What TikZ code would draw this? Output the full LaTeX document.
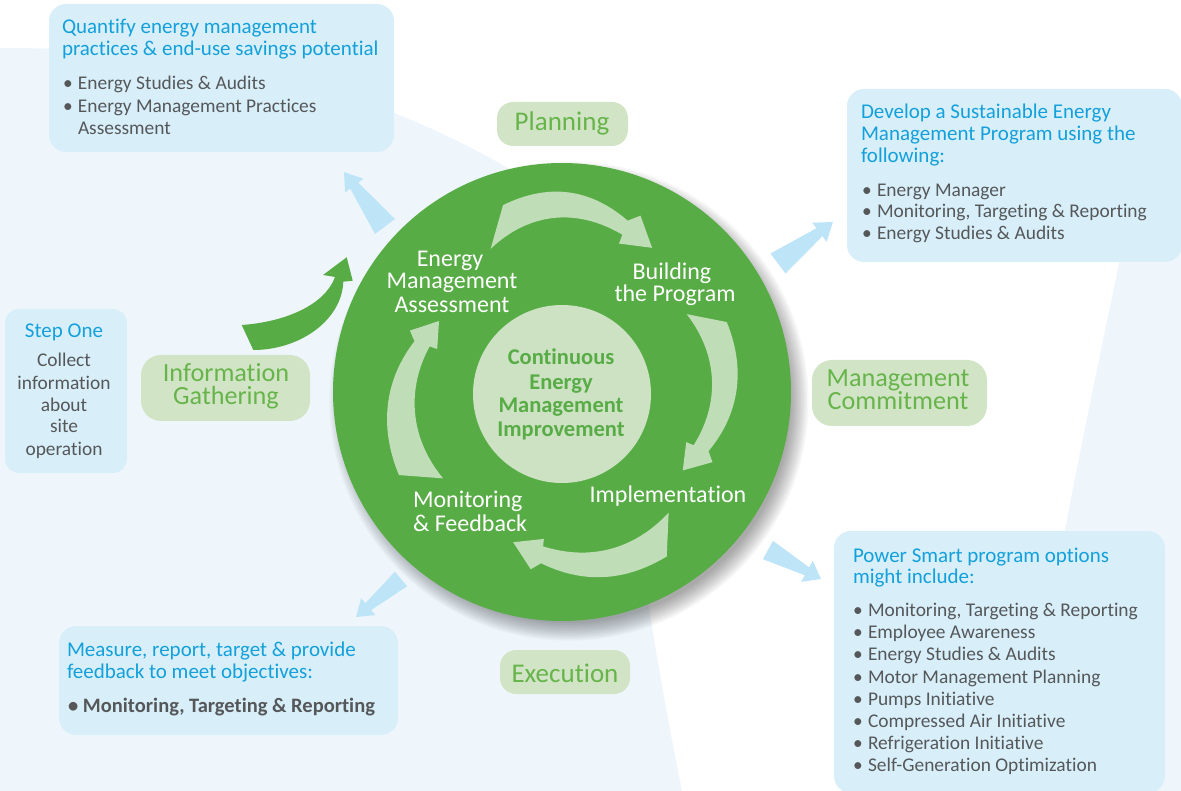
\documentclass[tikz,border=0pt]{standalone}
\usepackage{fontspec}
\setmainfont{Carlito}[Ligatures={NoCommon}]
\definecolor{bgpale}{HTML}{EEF6FC}
\definecolor{boxblue}{HTML}{D8EFFA}
\definecolor{titleblue}{HTML}{13A0DB}
\definecolor{bodygrey}{HTML}{555759}
\definecolor{wheelgreen}{HTML}{58AC46}
\definecolor{cyclefill}{HTML}{BFDDB7}
\definecolor{labelgreen}{HTML}{D1E5C6}
\definecolor{labeltext}{HTML}{67B44B}
\definecolor{corefill}{HTML}{CCE2C3}
\definecolor{arrowblue}{HTML}{BEE5F7}
\newcommand\TitleFont{\fontsize{21}{22}\selectfont}
\newcommand\BodyFont{\fontsize{19.4}{22}\selectfont}
\newcommand\BoldBodyFont{\fontsize{20.5}{22}\selectfont\bfseries}
\newcommand\GreenFont{\fontsize{27}{23}\selectfont}
\newcommand\GreenFontTwo{\fontsize{26.2}{23}\selectfont}
\newcommand\WhiteFont{\fontsize{24}{23}\selectfont}
\newcommand\CoreFont{\fontsize{22.5}{24}\selectfont\bfseries}
\newcommand\bul{\makebox[15pt][l]{\textbullet}}
\newcommand\twolines[2]{\begin{tabular}[t]{@{}c@{}}#1\\[-2.5pt]#2\end{tabular}}
% tapered straight arrow: tail, tip, tail width, neck width, head width, head length
\newcommand\taperarrow[6]{%
  \path (#1); \pgfgetlastxy{\TAx}{\TAy}%
  \path (#2); \pgfgetlastxy{\TBx}{\TBy}%
  \pgfmathsetmacro\TAng{atan2((\TBy)-(\TAy),(\TBx)-(\TAx))}%
  \pgfmathsetmacro\TLen{veclen((\TBx)-(\TAx),(\TBy)-(\TAy))}%
  \fill[arrowblue, shift={(\TAx,\TAy)}, rotate=\TAng]
    (0,{(#3)/2}) -- ({\TLen-(#6)},{(#4)/2}) -- ({\TLen-(#6)},{(#5)/2}) -- (\TLen,0)
    -- ({\TLen-(#6)},{-(#5)/2}) -- ({\TLen-(#6)},{-(#4)/2}) -- (0,{-(#3)/2}) -- cycle;}
% curved tapered arrow round the wheel centre:
% tail angle, neck angle, tip angle, tail radius, neck radius, tail width, neck width, head half width, bulge
\newcommand\cyclearrow[9]{%
  \fill[cyclefill]
    plot[domain=0:1,samples=30,variable=\t]
      ({(#1)+4.5+((#2)-(#1)-4.5)*\t}:{(#4)+((#5)-(#4))*\t+(#9)*sin(180*\t)+((#6)+((#7)-(#6))*\t)/2})
    -- ({(#2)+3}:{(#5)+(#8)}) -- ({#3}:{(#5)-6}) -- ({#2}:{(#5)-(#8)})
    -- plot[domain=0:1,samples=30,variable=\t]
      ({(#2)-((#2)-(#1)+4.5)*\t}:{(#4)+((#5)-(#4))*(1-\t)+(#9)*sin(180*(1-\t))-((#6)+((#7)-(#6))*(1-\t))/2})
    -- cycle;}
\begin{document}
\begin{tikzpicture}[x=1pt,y=-1pt,
  bluebox/.style={fill=boxblue, rounded corners=17pt, inner sep=0pt, outer sep=0pt},
  greenlabel/.style={fill=labelgreen, rounded corners=16pt, inner sep=0pt, outer sep=0pt},
  ln/.style={anchor=base west, inner sep=0pt, outer sep=0pt},
  lc/.style={anchor=base, inner sep=0pt, outer sep=0pt},
  titletext/.style={ln, text=titleblue, font=\TitleFont},
  bodytext/.style={ln, text=bodygrey, font=\BodyFont},
  bodycentre/.style={lc, text=bodygrey, font=\BodyFont},
  gtext/.style={lc, text=labeltext, font=\GreenFont},
  gtexttwo/.style={lc, text=labeltext, font=\GreenFontTwo},
  wtext/.style={lc, text=white, font=\WhiteFont},
  ctext/.style={lc, text=wheelgreen, font=\CoreFont}]
\useasboundingbox (0,0) rectangle (1181,791);
\fill[white] (0,0) rectangle (1181,791);
% pale background shapes
\fill[bgpale] (0,48) .. controls (200,48) and (360,80) .. (520,175) -- (562,392) -- (648,600)
  .. controls (660,680) and (672,740) .. (682,791) -- (0,791) -- cycle;
\fill[bgpale] (1128,230) -- (1181,230) -- (1181,791) -- (1038,791) -- (1065,530)
  .. controls (1080,450) and (1105,330) .. (1122,250) -- cycle;
% boxes
\node[bluebox, minimum width=345pt, minimum height=148pt] (qbox) at (221.5,78) {};
\node[bluebox, minimum width=335pt, minimum height=173pt] (dbox) at (1014.5,175.5) {};
\node[bluebox, minimum width=122pt, minimum height=164pt, rounded corners=14pt] (sbox) at (66,391) {};
\node[bluebox, minimum width=339pt, minimum height=109pt] (mbox) at (228.5,680.5) {};
\node[bluebox, minimum width=331pt, minimum height=262pt] (pbox) at (999.5,662) {};
% green labels
\node[greenlabel, minimum width=131pt, minimum height=44pt] (plan) at (562.5,124) {};
\node[greenlabel, minimum width=169pt, minimum height=66pt, rounded corners=20pt] (info) at (225.5,388) {};
\node[greenlabel, minimum width=175pt, minimum height=66pt, rounded corners=20pt] (mgmt) at (899.5,393) {};
\node[greenlabel, minimum width=130pt, minimum height=44pt] (exec) at (565,672) {};
% wheel shadow
\foreach \i in {0,...,11}
  \fill[black, opacity=0.03] (569,401) circle ({222+\i*1.6});
% wheel
\node[circle, fill=wheelgreen, minimum size=458pt, inner sep=0pt] (wheel) at (562,392) {};
\node[circle, fill=corefill, minimum size=178pt, inner sep=0pt] (core) at (562,394) {};
% cycle arrows
\begin{scope}[shift={(562,392)}]
  \cyclearrow{-112}{-69}{-58}{178}{176}{36}{15}{17}{10}
  \cyclearrow{-27.5}{22}{33}{163}{150}{32}{16}{16}{6}
  \cyclearrow{53}{97}{108}{178}{164}{34}{17}{16}{6}
  \cyclearrow{148.5}{199}{210}{165}{148}{36}{16}{16}{5}
\end{scope}
% green arrow from Information Gathering
\fill[wheelgreen] (241.7,325) .. controls (285,322) and (325,305) .. (335,277) -- (323,275)
  -- (346.7,257.3) -- (352.7,280.7) -- (343.3,281.7) .. controls (342,320) and (300,350) .. (253.3,350) -- cycle;
% blue arrows
\coordinate (ultail) at (385,226.5); \coordinate (ultip) at (344,172);
\coordinate (urtail) at (778,263.5); \coordinate (urtip) at (833,222);
\coordinate (lrtail) at (768,550);   \coordinate (lrtip) at (821,579);
\coordinate (lltail) at (401,579);   \coordinate (lltip) at (356,617);
\taperarrow{ultail}{ultip}{25}{10}{23}{17}
\taperarrow{urtail}{urtip}{25}{10}{24}{17}
\taperarrow{lrtail}{lrtip}{21}{9}{24}{16}
\taperarrow{lltail}{lltip}{19}{9}{22}{16}
% Quantify box text
\node[titletext] (q1) at (62,34) {Quantify energy management};
\node[titletext] (q2) at (62,56) {practices \& end-use savings potential};
\node[bodytext] (q3) at (63,90) {\bul Energy Studies \& Audits};
\node[bodytext] (q4) at (63,113) {\bul Energy Management Practices};
\node[bodytext] (q5) at (78,135) {Assessment};
% Develop box text
\node[titletext] (d1) at (861,119) {Develop a Sustainable Energy};
\node[titletext] (d2) at (861,141) {Management Program using the};
\node[titletext] (d3) at (861,163) {following:};
\node[bodytext] (d4) at (862,197) {\bul Energy Manager};
\node[bodytext] (d5) at (862,218) {\bul Monitoring, Targeting \& Reporting};
\node[bodytext] (d6) at (862,240) {\bul Energy Studies \& Audits};
% Step One box text
\node[lc, text=titleblue, font=\TitleFont] (s1) at (64,338) {Step One};
\node[bodycentre] (s2) at (64,367) {Collect};
\node[bodycentre] (s3) at (64,390) {information};
\node[bodycentre] (s4) at (64,412) {about};
\node[bodycentre] (s5) at (64,433) {site};
\node[bodycentre] (s6) at (64,455) {operation};
% Measure box text
\node[titletext] (m1) at (67,656) {Measure, report, target \& provide};
\node[titletext] (m2) at (67,678) {feedback to meet objectives:};
\node[ln, text=bodygrey, font=\BoldBodyFont] (m3) at (68,712) {\bul Monitoring, Targeting \& Reporting};
% Power Smart box text
\node[titletext] (p1) at (853,562) {Power Smart program options};
\node[titletext] (p2) at (853,583) {might include:};
\node[bodytext] (p3) at (853,616) {\bul Monitoring, Targeting \& Reporting};
\node[bodytext] (p4) at (853,638) {\bul Employee Awareness};
\node[bodytext] (p5) at (853,660) {\bul Energy Studies \& Audits};
\node[bodytext] (p6) at (853,683) {\bul Motor Management Planning};
\node[bodytext] (p7) at (853,705) {\bul Pumps Initiative};
\node[bodytext] (p8) at (853,727) {\bul Compressed Air Initiative};
\node[bodytext] (p9) at (853,749) {\bul Refrigeration Initiative};
\node[bodytext] (p10) at (853,771) {\bul Self-Generation Optimization};
% green label texts
\node[gtext] (plant) at (562,131) {Planning};
\node[gtexttwo] (infot) at (226,382) {\twolines{Information}{Gathering}};
\node[gtexttwo] (mgmtt) at (898,387) {\twolines{Management}{Commitment}};
\node[gtext] (exect) at (565,682) {Execution};
% wheel labels
\node[wtext] (ema1) at (450,267) {Energy};
\node[wtext] (ema2) at (452,289) {Management};
\node[wtext] (ema3) at (452,313) {Assessment};
\node[wtext] (btp1) at (672,280) {Building};
\node[wtext] (btp2) at (675,302) {the Program};
\node[wtext] (impl) at (668,502) {Implementation};
\node[ln, text=white, font=\WhiteFont] (mf1) at (413,507) {Monitoring};
\node[ln, text=white, font=\WhiteFont] (mf2) at (413,531) {\& Feedback};
% core text
\node[ctext] (c1) at (561,365) {Continuous};
\node[ctext] (c2) at (561,390) {Energy};
\node[ctext] (c3) at (561,413) {Management};
\node[ctext] (c4) at (561,437) {Improvement};
\end{tikzpicture}
\end{document}
